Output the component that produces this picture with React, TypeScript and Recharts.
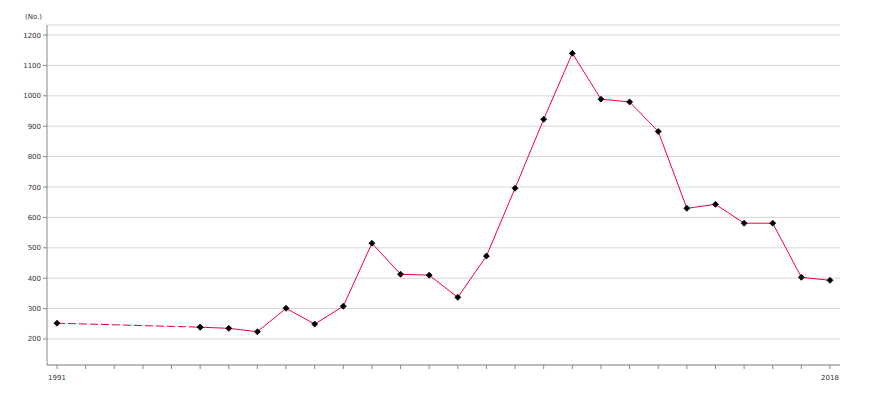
import React from "react";
import { LineChart, Line, XAxis, YAxis, CartesianGrid } from "recharts";

const years = [1991, 1992, 1993, 1994, 1995, 1996, 1997, 1998, 1999, 2000, 2001, 2002, 2003, 2004, 2005, 2006, 2007, 2008, 2009, 2010, 2011, 2012, 2013, 2014, 2015, 2016, 2017, 2018];
const dashedValues: (number | null)[] = [252, null, null, null, null, 239, null, null, null, null, null, null, null, null, null, null, null, null, null, null, null, null, null, null, null, null, null, null];
const solidValues: (number | null)[] = [null, null, null, null, null, 239, 235, 224, 301, 249, 308, 515, 413, 410, 337, 473, 696, 923, 1140, 989, 980, 883, 630, 643, 581, 581, 403, 393];
const yTicks = [200, 300, 400, 500, 600, 700, 800, 900, 1000, 1100, 1200];
const labeledYears = [1991, 2018];

const data = years.map((y, i) => ({ year: y, dashed: dashedValues[i], solid: solidValues[i] }));

const LINE_COLOR = "#f0003c";
const FONT = "'DejaVu Sans', sans-serif";

const Diamond = (props: any) => {
  const { cx, cy, value } = props;
  if (value === null || value === undefined || cx == null || cy == null) return null;
  const r = 3;
  return (
    <polygon
      key={`d-${cx}-${cy}`}
      points={`${cx},${cy - r} ${cx + r},${cy} ${cx},${cy + r} ${cx - r},${cy}`}
      fill="#000"
      stroke="#000"
      strokeWidth={0.8}
    />
  );
};

export default function App() {
  return (
    <div style={{ position: "absolute", left: 0, top: 0, width: 870, height: 400, background: "#fff" }}>
      <div
        style={{
          position: "absolute",
          left: 25,
          top: 12,
          fontFamily: FONT,
          fontSize: 7,
          color: "#333",
          lineHeight: "10px",
        }}
      >
        (No.)
      </div>
      <LineChart width={870} height={400} data={data} margin={{ top: 25, right: 30, bottom: 0, left: 0 }}>
        <CartesianGrid horizontal={true} vertical={false} stroke="#d6d6d6" strokeWidth={1} />
        <XAxis
          dataKey="year"
          type="number"
          domain={[1991, 2018]}
          ticks={years}
          interval={0}
          padding={{ left: 10, right: 10 }}
          tickFormatter={(v: number) => (labeledYears.includes(v) ? String(v) : "")}
          height={35}
          axisLine={{ stroke: "#888" }}
          tickLine={{ stroke: "#888" }}
          tickSize={4}
          tickMargin={6}
          tick={{ fontFamily: FONT, fontSize: 7, fill: "#333" }}
        />
        <YAxis
          type="number"
          domain={[114.5, 1233]}
          allowDataOverflow={true}
          ticks={yTicks}
          interval={0}
          width={47}
          axisLine={{ stroke: "#888" }}
          tickLine={{ stroke: "#888" }}
          tickSize={4}
          tick={{ fontFamily: FONT, fontSize: 7, fill: "#333" }}
        />
        <Line
          type="linear"
          dataKey="dashed"
          stroke={LINE_COLOR}
          strokeWidth={1}
          strokeDasharray="8 3"
          connectNulls={true}
          dot={<Diamond />}
          activeDot={false}
          isAnimationActive={false}
        />
        <Line
          type="linear"
          dataKey="solid"
          stroke={LINE_COLOR}
          strokeWidth={1}
          connectNulls={false}
          dot={<Diamond />}
          activeDot={false}
          isAnimationActive={false}
        />
      </LineChart>
    </div>
  );
}
